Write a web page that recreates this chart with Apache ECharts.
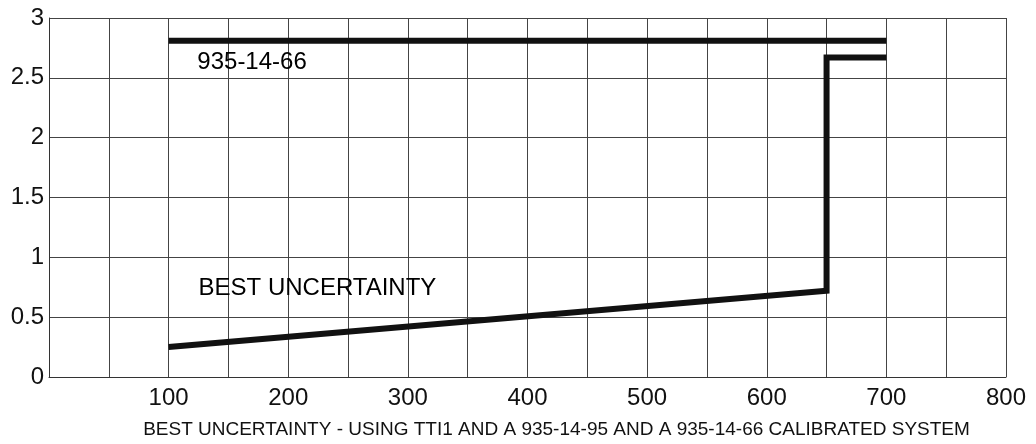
<!DOCTYPE html>
<html>
<head>
<meta charset="utf-8">
<script src="https://cdn.jsdelivr.net/npm/echarts@6/dist/echarts.min.js"></script>
<style>
  html, body { margin: 0; padding: 0; background: #fff; }
  #chart { width: 1036px; height: 444px; }
</style>
</head>
<body>
<div id="chart"></div>
<script>
// 935-14-66 system, flat line
var refX = [100, 700];
var refY = [2.81, 2.81];
// best uncertainty curve
var bestX = [100, 650, 650, 700];
var bestY = [0.25, 0.72, 2.67, 2.67];
// in-plot labels
var noteText = ['935-14-66', 'BEST UNCERTAINTY'];
var noteX = [124, 125];
var noteY = [2.63, 0.74];
var xTitle = 'BEST UNCERTAINTY - USING TTI1 AND A 935-14-95 AND A 935-14-66 CALIBRATED SYSTEM';

function pairs(xs, ys) {
  return xs.map(function (x, i) { return [x, ys[i]]; });
}

var chart = echarts.init(document.getElementById('chart'));
var font = 'Liberation Sans, Arial, sans-serif';

chart.setOption({
  animation: false,
  backgroundColor: '#fff',
  grid: { left: 49, right: 30, top: 18, bottom: 67, containLabel: false, outerBoundsMode: 'none' },
  xAxis: {
    type: 'value',
    min: 0,
    max: 800,
    interval: 50,
    name: xTitle,
    nameLocation: 'middle',
    nameGap: 43,
    // title sits a bit right of the plot centre in the original
    nameTextStyle: { fontFamily: font, fontSize: 19, color: '#111', padding: [0, 0, 0, 58] },
    axisLine: { show: true, lineStyle: { color: '#333', width: 1 } },
    axisTick: { show: false },
    axisLabel: {
      fontFamily: font, fontSize: 24, color: '#111', margin: 9,
      formatter: function (v) { return (v > 0 && v % 100 === 0) ? String(v) : ''; }
    },
    splitLine: { show: true, lineStyle: { color: '#444', width: 1 } }
  },
  yAxis: {
    type: 'value',
    min: 0,
    max: 3,
    interval: 0.5,
    axisLine: { show: true, lineStyle: { color: '#333', width: 1 } },
    axisTick: { show: false },
    axisLabel: { fontFamily: font, fontSize: 24, color: '#111', margin: 5 },
    splitLine: { show: true, lineStyle: { color: '#444', width: 1 } }
  },
  series: [
    {
      type: 'line',
      data: pairs(refX, refY),
      symbol: 'none',
      lineStyle: { color: '#111', width: 6, cap: 'butt' }
    },
    {
      type: 'line',
      data: pairs(bestX, bestY),
      symbol: 'none',
      lineStyle: { color: '#111', width: 6, cap: 'butt', join: 'miter' }
    },
    {
      type: 'scatter',
      symbolSize: 0,
      itemStyle: { opacity: 1 },
      data: noteText.map(function (t, i) { return { value: [noteX[i], noteY[i]], name: t }; }),
      label: {
        show: true,
        position: 'right',
        distance: 0,
        formatter: '{b}',
        fontFamily: font,
        fontSize: 24,
        color: '#000',
        opacity: 1,
        textBorderWidth: 0
      }
    }
  ]
});
</script>
</body>
</html>
